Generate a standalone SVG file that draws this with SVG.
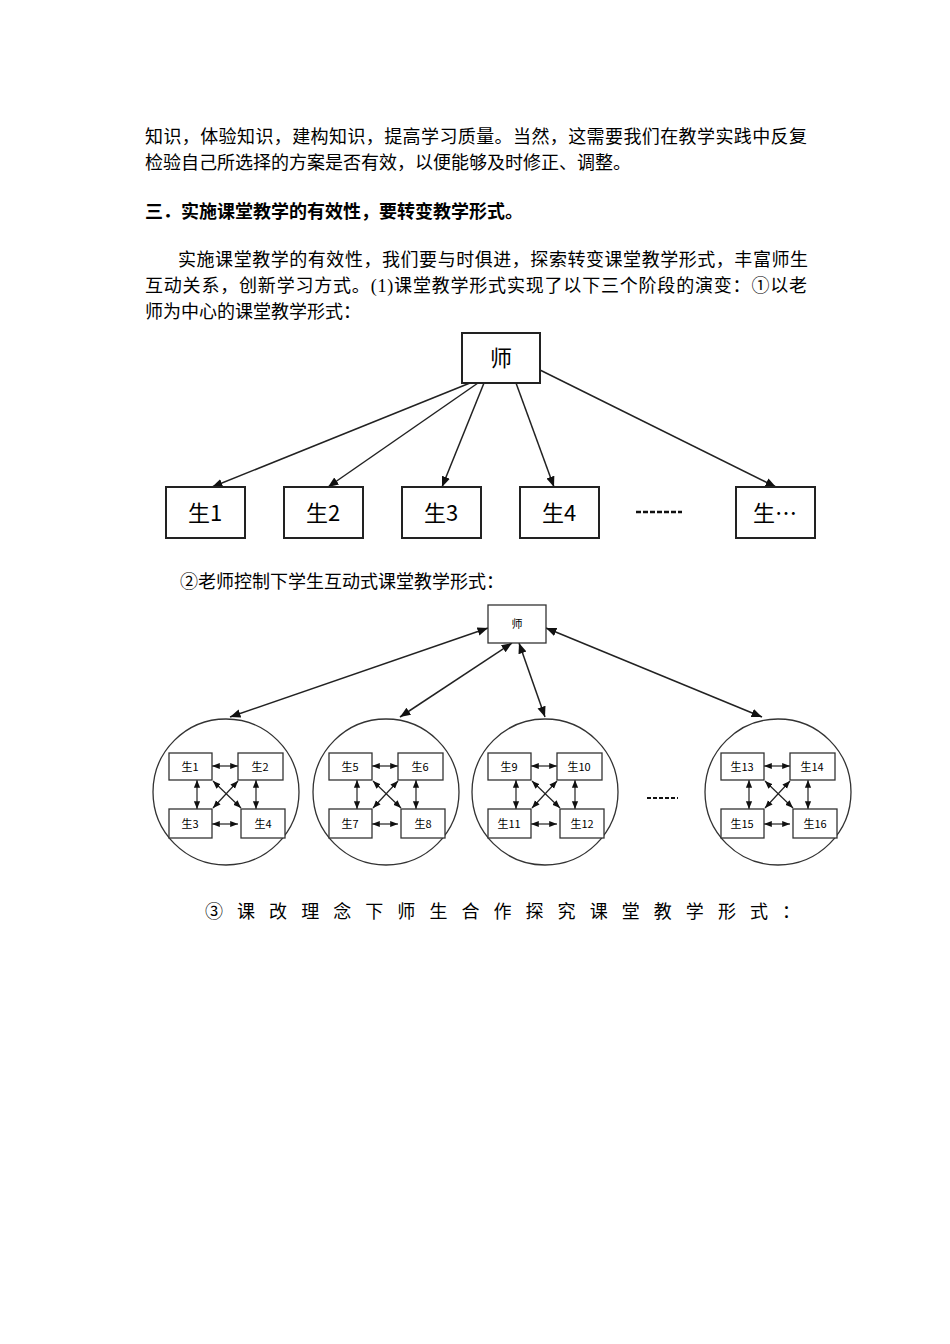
<svg xmlns="http://www.w3.org/2000/svg" width="950" height="1344" viewBox="0 0 950 1344">
<style>
.t{font-family:"Liberation Serif","Noto Sans CJK SC",serif;font-size:18px;fill:#000}
.b{font-weight:bold}
.box{fill:#fff;stroke:#222;stroke-width:2}
.sb{fill:#fff;stroke:#333;stroke-width:1.3}
.l{stroke:#222;stroke-width:1.5;fill:none}
.n1{font-family:"Noto Sans CJK SC",sans-serif;font-size:22px;text-anchor:middle;fill:#000}
.n2{font-family:"Noto Sans CJK SC",sans-serif;font-size:11px;text-anchor:middle;fill:#000}
</style>
<defs>
<marker id="a" viewBox="0 0 10 10" refX="10" refY="5" markerWidth="7" markerHeight="7" orient="auto-start-reverse"><path d="M0,1L10,5L0,9z" fill="#111"/></marker>
<marker id="s" viewBox="0 0 10 10" refX="10" refY="5" markerWidth="6.5" markerHeight="6.5" orient="auto-start-reverse"><path d="M0,1L10,5L0,9z" fill="#111"/></marker>
</defs>
<rect width="950" height="1344" fill="#fff"/>
<g id="text">
<text class="t" x="145" y="143" textLength="662">知识，体验知识，建构知识，提高学习质量。当然，这需要我们在教学实践中反复</text>
<text class="t" x="145" y="169">检验自己所选择的方案是否有效，以便能够及时修正、调整。</text>
<text class="t b" x="145" y="218">三．实施课堂教学的有效性，要转变教学形式。</text>
<text class="t" x="178" y="266" textLength="630">实施课堂教学的有效性，我们要与时俱进，探索转变课堂教学形式，丰富师生</text>
<text class="t" x="145" y="292" textLength="662">互动关系，创新学习方式。(1)课堂教学形式实现了以下三个阶段的演变：①以老</text>
<text class="t" x="145" y="318">师为中心的课堂教学形式：</text>
<text class="t" x="180" y="588">②老师控制下学生互动式课堂教学形式：</text>
<text class="t" x="205" y="918" textLength="595">③课改理念下师生合作探究课堂教学形式：</text>
</g>
<g id="d1-connectors">
<line class="l" x1="470" y1="383" x2="212" y2="487" marker-end="url(#a)"/>
<line class="l" x1="478" y1="383" x2="328" y2="487" marker-end="url(#a)"/>
<line class="l" x1="484" y1="383" x2="442" y2="487" marker-end="url(#a)"/>
<line class="l" x1="516" y1="383" x2="554" y2="487" marker-end="url(#a)"/>
<line class="l" x1="540" y1="370" x2="776" y2="487" marker-end="url(#a)"/>
</g>
<g id="teacher1"><rect class="box" x="462" y="333" width="78" height="50"/><text class="n1" x="501" y="366">师</text></g>
<g id="s1"><rect class="box" x="166" y="487" width="79" height="51"/><text class="n1" x="205" y="521">生1</text></g>
<g id="s2"><rect class="box" x="284" y="487" width="79" height="51"/><text class="n1" x="323" y="521">生2</text></g>
<g id="s3"><rect class="box" x="402" y="487" width="79" height="51"/><text class="n1" x="441" y="521">生3</text></g>
<g id="s4"><rect class="box" x="520" y="487" width="79" height="51"/><text class="n1" x="559" y="521">生4</text></g>
<g id="dots1"><line x1="636" y1="512" x2="682" y2="512" stroke="#111" stroke-width="2.5" stroke-dasharray="5,2"/></g>
<g id="sn"><rect class="box" x="736" y="487" width="79" height="51"/><text class="n1" x="775" y="521">生…</text></g>
<g id="d2-connectors">
<line class="l" x1="488" y1="628" x2="230" y2="717" marker-start="url(#a)" marker-end="url(#a)"/>
<line class="l" x1="512" y1="643" x2="400" y2="717" marker-start="url(#a)" marker-end="url(#a)"/>
<line class="l" x1="519" y1="643" x2="545" y2="717" marker-start="url(#a)" marker-end="url(#a)"/>
<line class="l" x1="546" y1="628" x2="762" y2="717" marker-start="url(#a)" marker-end="url(#a)"/>
</g>
<g id="teacher2"><rect class="sb" x="488" y="605" width="58" height="38"/><text class="n2" x="517" y="628">师</text></g>
<g id="dots2"><line x1="647" y1="798" x2="678" y2="798" stroke="#111" stroke-width="2" stroke-dasharray="4,2"/></g>
<g id="group1" transform="translate(226,792)">
<circle r="73" fill="none" stroke="#333" stroke-width="1.3"/>
<g class="l" style="stroke-width:1.2">
<line x1="-14" y1="-26" x2="12" y2="-26" marker-start="url(#s)" marker-end="url(#s)"/>
<line x1="-14" y1="32" x2="12" y2="32" marker-start="url(#s)" marker-end="url(#s)"/>
<line x1="-29" y1="-12" x2="-29" y2="17" marker-start="url(#s)" marker-end="url(#s)"/>
<line x1="30" y1="-12" x2="30" y2="17" marker-start="url(#s)" marker-end="url(#s)"/>
<line x1="-13" y1="-11" x2="15" y2="16" marker-start="url(#s)" marker-end="url(#s)"/>
<line x1="12" y1="-11" x2="-13" y2="16" marker-start="url(#s)" marker-end="url(#s)"/>
</g>
<g id="g1a"><rect class="sb" x="-57" y="-39" width="43" height="27"/><text class="n2" x="-36" y="-21">生1</text></g>
<g id="g1b"><rect class="sb" x="12" y="-39" width="45" height="27"/><text class="n2" x="34" y="-21">生2</text></g>
<g id="g1c"><rect class="sb" x="-57" y="17" width="43" height="29"/><text class="n2" x="-36" y="36">生3</text></g>
<g id="g1d"><rect class="sb" x="15" y="17" width="44" height="29"/><text class="n2" x="37" y="36">生4</text></g>
</g>
<g id="group2" transform="translate(386,792)">
<circle r="73" fill="none" stroke="#333" stroke-width="1.3"/>
<g class="l" style="stroke-width:1.2">
<line x1="-14" y1="-26" x2="12" y2="-26" marker-start="url(#s)" marker-end="url(#s)"/>
<line x1="-14" y1="32" x2="12" y2="32" marker-start="url(#s)" marker-end="url(#s)"/>
<line x1="-29" y1="-12" x2="-29" y2="17" marker-start="url(#s)" marker-end="url(#s)"/>
<line x1="30" y1="-12" x2="30" y2="17" marker-start="url(#s)" marker-end="url(#s)"/>
<line x1="-13" y1="-11" x2="15" y2="16" marker-start="url(#s)" marker-end="url(#s)"/>
<line x1="12" y1="-11" x2="-13" y2="16" marker-start="url(#s)" marker-end="url(#s)"/>
</g>
<g id="g2a"><rect class="sb" x="-57" y="-39" width="43" height="27"/><text class="n2" x="-36" y="-21">生5</text></g>
<g id="g2b"><rect class="sb" x="12" y="-39" width="45" height="27"/><text class="n2" x="34" y="-21">生6</text></g>
<g id="g2c"><rect class="sb" x="-57" y="17" width="43" height="29"/><text class="n2" x="-36" y="36">生7</text></g>
<g id="g2d"><rect class="sb" x="15" y="17" width="44" height="29"/><text class="n2" x="37" y="36">生8</text></g>
</g>
<g id="group3" transform="translate(545,792)">
<circle r="73" fill="none" stroke="#333" stroke-width="1.3"/>
<g class="l" style="stroke-width:1.2">
<line x1="-14" y1="-26" x2="12" y2="-26" marker-start="url(#s)" marker-end="url(#s)"/>
<line x1="-14" y1="32" x2="12" y2="32" marker-start="url(#s)" marker-end="url(#s)"/>
<line x1="-29" y1="-12" x2="-29" y2="17" marker-start="url(#s)" marker-end="url(#s)"/>
<line x1="30" y1="-12" x2="30" y2="17" marker-start="url(#s)" marker-end="url(#s)"/>
<line x1="-13" y1="-11" x2="15" y2="16" marker-start="url(#s)" marker-end="url(#s)"/>
<line x1="12" y1="-11" x2="-13" y2="16" marker-start="url(#s)" marker-end="url(#s)"/>
</g>
<g id="g3a"><rect class="sb" x="-57" y="-39" width="43" height="27"/><text class="n2" x="-36" y="-21">生9</text></g>
<g id="g3b"><rect class="sb" x="12" y="-39" width="45" height="27"/><text class="n2" x="34" y="-21">生10</text></g>
<g id="g3c"><rect class="sb" x="-57" y="17" width="43" height="29"/><text class="n2" x="-36" y="36">生11</text></g>
<g id="g3d"><rect class="sb" x="15" y="17" width="44" height="29"/><text class="n2" x="37" y="36">生12</text></g>
</g>
<g id="group4" transform="translate(778,792)">
<circle r="73" fill="none" stroke="#333" stroke-width="1.3"/>
<g class="l" style="stroke-width:1.2">
<line x1="-14" y1="-26" x2="12" y2="-26" marker-start="url(#s)" marker-end="url(#s)"/>
<line x1="-14" y1="32" x2="12" y2="32" marker-start="url(#s)" marker-end="url(#s)"/>
<line x1="-29" y1="-12" x2="-29" y2="17" marker-start="url(#s)" marker-end="url(#s)"/>
<line x1="30" y1="-12" x2="30" y2="17" marker-start="url(#s)" marker-end="url(#s)"/>
<line x1="-13" y1="-11" x2="15" y2="16" marker-start="url(#s)" marker-end="url(#s)"/>
<line x1="12" y1="-11" x2="-13" y2="16" marker-start="url(#s)" marker-end="url(#s)"/>
</g>
<g id="g4a"><rect class="sb" x="-57" y="-39" width="43" height="27"/><text class="n2" x="-36" y="-21">生13</text></g>
<g id="g4b"><rect class="sb" x="12" y="-39" width="45" height="27"/><text class="n2" x="34" y="-21">生14</text></g>
<g id="g4c"><rect class="sb" x="-57" y="17" width="43" height="29"/><text class="n2" x="-36" y="36">生15</text></g>
<g id="g4d"><rect class="sb" x="15" y="17" width="44" height="29"/><text class="n2" x="37" y="36">生16</text></g>
</g>
</svg>
